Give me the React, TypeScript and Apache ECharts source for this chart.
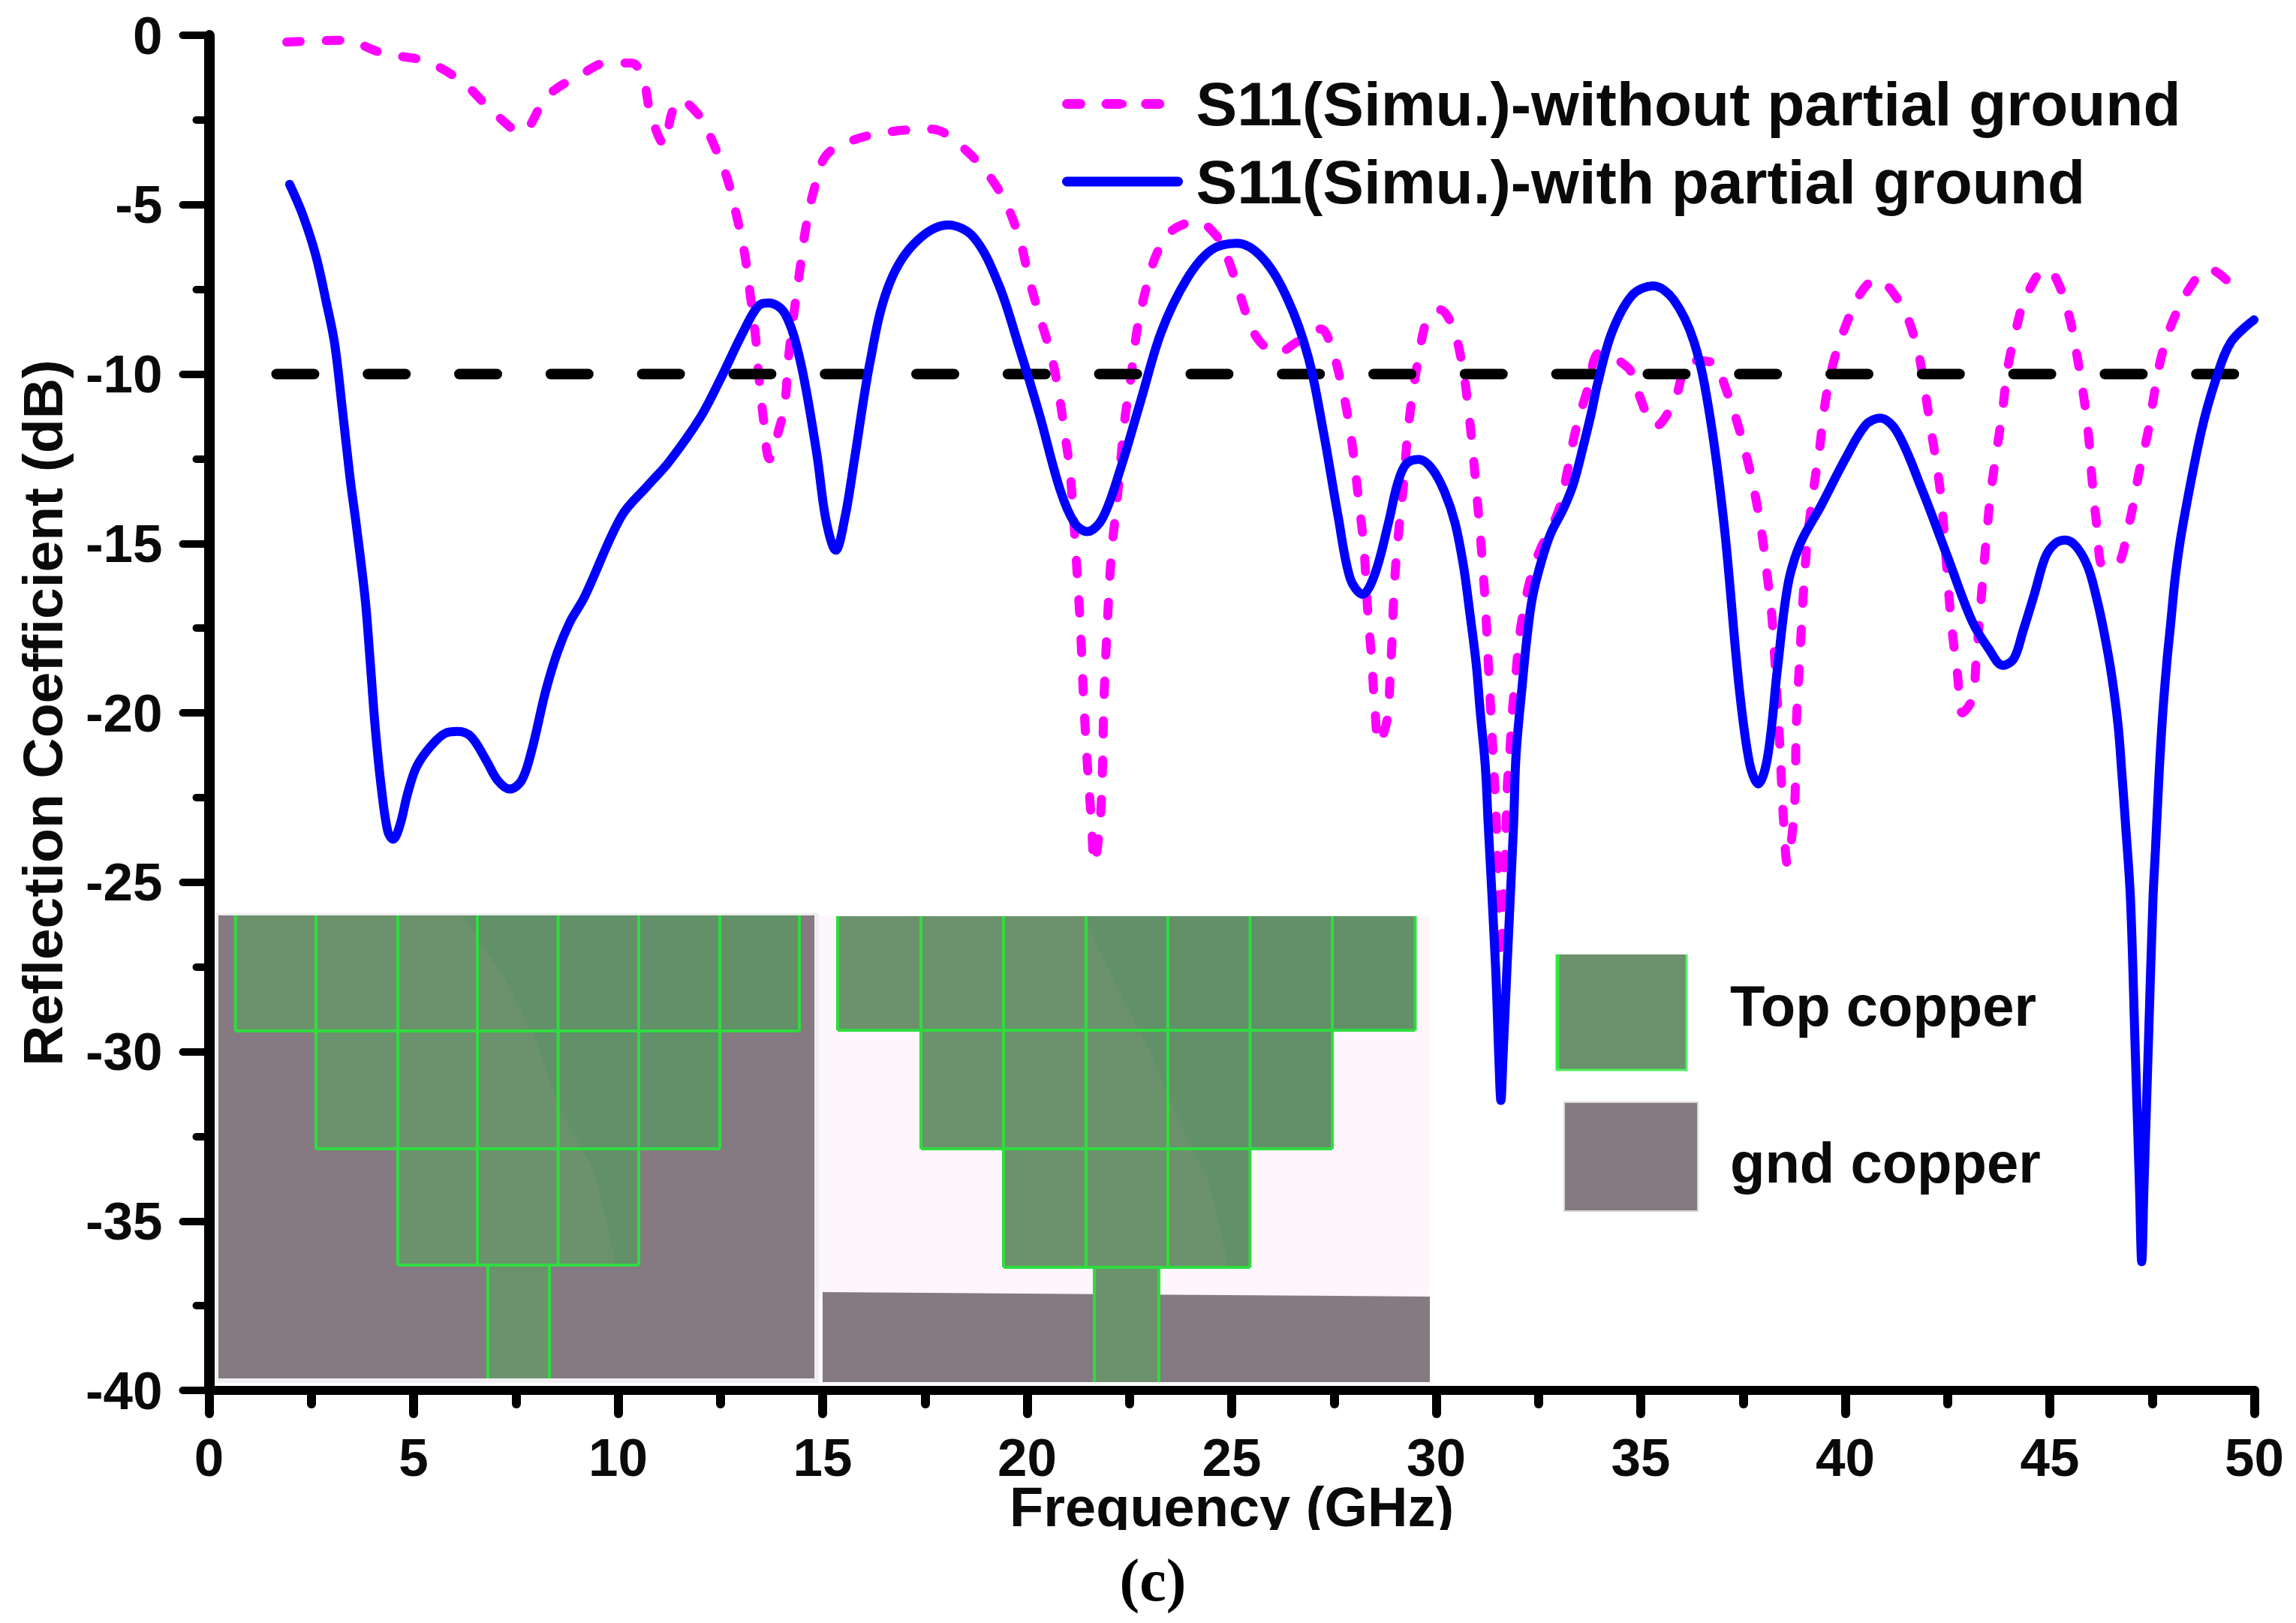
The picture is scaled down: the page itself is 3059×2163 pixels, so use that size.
import React, { useEffect, useRef } from "react";
import * as echarts from "echarts";

const withFreq = [1.97,2.29,2.61,2.87,3.07,3.26,3.45,3.6,3.82,3.94,4.06,4.21,4.37,4.5,4.67,4.85,5.07,5.41,5.78,6.08,6.4,6.76,7.06,7.35,7.64,7.89,8.22,8.52,8.83,9.17,10.08,10.72,11.24,12.0,12.5,13.04,13.42,13.68,14.07,14.45,14.85,15.08,15.32,15.55,15.78,16.15,16.58,17.2,18.07,18.69,19.3,19.8,20.3,20.8,21.16,21.47,21.84,22.28,22.78,23.28,23.9,24.5,25.12,25.75,26.37,26.87,27.24,27.6,27.9,28.2,28.5,28.83,29.05,29.26,29.58,29.9,30.2,30.46,30.67,30.82,30.98,31.07,31.2,31.27,31.45,31.53,31.58,31.63,31.73,31.89,31.95,32.1,32.22,32.35,32.56,32.8,33.1,33.35,33.6,33.8,33.94,34.3,34.8,35.3,35.8,36.3,36.67,37.04,37.4,37.66,37.87,38.1,38.34,38.6,38.9,39.4,40,40.5,40.85,41.26,41.87,42.5,43.1,43.5,43.85,44.12,44.34,44.62,44.89,45.13,45.38,45.65,45.93,46.14,46.32,46.51,46.67,46.76,46.85,46.97,47.08,47.19,47.245,47.3,47.41,47.52,47.58,47.67,47.76,47.86,47.95,48.07,48.25,48.7,49.06,49.43,49.99];
const withS11 = [-4.4,-5.3,-6.5,-7.9,-9.1,-11.05,-13.1,-14.46,-16.68,-18.5,-20.4,-22.2,-23.5,-23.73,-23.3,-22.4,-21.6,-21,-20.6,-20.55,-20.7,-21.37,-22,-22.25,-22,-21.1,-19.4,-18.2,-17.3,-16.6,-14.2,-13.3,-12.6,-11.3,-10.15,-8.8,-8.0,-7.9,-8.2,-9.6,-12.3,-14.3,-15.2,-14.2,-12.5,-9.7,-7.5,-6.2,-5.6,-5.96,-7.35,-9.2,-11.2,-13.4,-14.4,-14.65,-14.26,-12.8,-10.77,-8.75,-7.2,-6.34,-6.14,-6.57,-7.8,-9.5,-11.7,-14.2,-16.05,-16.5,-15.9,-14.4,-13.25,-12.66,-12.52,-12.8,-13.47,-14.4,-15.7,-17.05,-18.6,-19.9,-21.6,-23.3,-27.5,-30.2,-31.44,-30.2,-27.5,-23.3,-21.25,-19.2,-17.75,-16.6,-15.57,-14.7,-14,-13.25,-12.1,-11.1,-10.3,-8.75,-7.66,-7.4,-7.8,-9.05,-11.1,-14.5,-19.2,-21.5,-22.1,-21.3,-18.7,-16.2,-15,-13.9,-12.5,-11.5,-11.3,-11.7,-13.4,-15.4,-17.3,-18.1,-18.6,-18.4,-17.6,-16.5,-15.4,-15,-14.9,-15.1,-15.7,-16.6,-17.6,-18.9,-20.4,-21.8,-23.3,-25.5,-29.7,-34,-36.2,-34,-29.7,-25.5,-24.06,-21.8,-20,-18.5,-17.4,-15.94,-14.46,-11.7,-10.15,-9.05,-8.4];

const withoutFreq = [1.9,3.26,4.28,5.3,6.2,6.98,7.63,8.28,9.18,9.7,10.33,10.6,10.8,11.13,11.3,11.5,12.07,12.27,12.65,12.91,13.1,13.23,13.36,13.42,13.55,13.7,13.94,14.07,14.17,14.32,14.45,14.58,14.78,15.09,15.78,16.7,17.64,18.63,19.37,19.8,20.05,20.3,20.6,20.8,20.93,21.05,21.19,21.3,21.38,21.47,21.57,21.64,21.8,21.88,21.97,22.06,22.2,22.38,22.53,22.68,22.9,23.15,23.5,24.14,24.7,24.95,25.2,25.6,26.13,26.6,27.18,27.42,27.68,27.86,27.99,28.1,28.23,28.33,28.42,28.5,28.6,28.8,28.87,28.92,28.96,29.02,29.11,29.2,29.29,29.4,29.57,29.78,30.09,30.4,30.65,30.8,30.88,30.97,31.06,31.13,31.2,31.25,31.3,31.35,31.4,31.45,31.52,31.58,31.65,31.71,31.73,31.8,31.86,31.95,32.05,32.23,32.5,33,33.2,33.4,33.7,34,34.7,34.9,35.37,35.8,36.23,36.85,37.04,37.35,37.6,37.8,37.97,38.1,38.2,38.28,38.38,38.43,38.49,38.58,38.76,38.8,38.9,38.98,39.08,39.24,39.37,39.5,39.7,40,40.38,40.75,41.37,41.75,41.94,42.1,42.25,42.37,42.5,42.6,42.74,42.86,43.1,43.2,43.36,43.45,43.55,43.67,43.83,43.97,44.16,44.41,44.9,45.16,45.47,45.65,45.84,45.96,46.03,46.15,46.3,46.6,46.95,47.18,47.4,47.57,47.75,48.06,48.56,48.87,49.43,49.68];
const withoutS11 = [-0.2,-0.15,-0.54,-0.77,-1.39,-2.3,-2.86,-1.78,-1.1,-0.82,-0.82,-1.22,-2.35,-3.23,-2.35,-1.9,-2.5,-3.03,-4.16,-5.4,-6.5,-7.66,-8.9,-9.8,-11.3,-12.5,-11.6,-10.94,-9.47,-8,-6.87,-5.74,-4.6,-3.54,-3.08,-2.84,-2.77,-3.54,-4.7,-5.96,-7.2,-8.28,-9.5,-10.77,-11.85,-12.9,-15.3,-17.45,-19.6,-21.5,-23.2,-24.45,-22.9,-19.5,-17.1,-15.3,-13.7,-11.4,-10.15,-8.75,-7.5,-6.5,-5.8,-5.5,-6.03,-6.73,-7.66,-8.9,-9.37,-9.05,-8.67,-9.14,-10.3,-11.4,-12.5,-13.7,-15.1,-17.1,-18.4,-19.9,-20.9,-20.2,-19,-17.8,-16.6,-15.45,-14.3,-13.25,-11.9,-10.77,-9.5,-8.4,-8.1,-8.6,-9.83,-11.2,-12.1,-13.3,-14.5,-15.6,-16.8,-18,-19.2,-20.35,-21.5,-22.7,-25,-27.3,-25,-23.3,-22.3,-21.1,-19.95,-18.8,-17.6,-16.4,-15.3,-14,-12.9,-11.7,-10.45,-9.37,-9.83,-10.45,-11.54,-10.85,-9.6,-9.7,-10.3,-11.4,-12.5,-13.6,-14.8,-16.05,-17.1,-18.5,-20.55,-21.8,-23.2,-24.45,-22.7,-20.4,-18.07,-16.36,-14.8,-13.25,-12.2,-10.9,-9.7,-8.6,-7.6,-7.2,-7.97,-9.2,-10.45,-11.7,-12.8,-14,-16.05,-17.45,-18.85,-20,-19.6,-18.4,-16.05,-14.8,-13.56,-12.5,-11.2,-9.83,-8.75,-7.74,-6.9,-7.2,-8.28,-9.37,-10.77,-12,-13.1,-14.5,-15.66,-15.66,-14.34,-12.9,-11.7,-10.45,-9.37,-8.28,-7.2,-6.9,-7.35,-7.8];

const thresholdFreq = [1.65, 49.5];
const thresholdS11 = [-10, -10];

const seriesNames = ["S11(Simu.)-without partial ground", "S11(Simu.)-with partial ground"];
const thresholdName = "-10 dB";
const xTitle = "Frequency (GHz)";
const yTitle = "Reflection Coefficient (dB)";
const caption = "(c)";
const swatchLabels = ["Top copper", "gnd copper"];

const GREEN = "#6b926c";
const GREEN2 = "#619069";
const EDGE = "#2fdc40";
const GREY = "#857982";
const FONT = "'Liberation Sans', Arial, sans-serif";

function shade(points: number[][]) {
  return { type: "polygon", shape: { points }, style: { fill: GREEN2, opacity: 1 }, z: 3 };
}
function line(x1: number, y1: number, x2: number, y2: number) {
  return { type: "line", shape: { x1, y1, x2, y2 }, style: { stroke: EDGE, lineWidth: 4 }, z: 4 };
}
function gridLines(cols: number[], y0: number, y1: number) {
  return cols.map((c) => line(c, y0, c, y1)).concat([line(cols[0], y1, cols[cols.length - 1], y1)]);
}

function insetGraphics() {
  const a1 = [313.6, 421, 530, 636, 743.6, 851, 959, 1065];
  const a2 = [421, 530, 636, 743.6, 851, 959];
  const a3 = [530, 636, 743.6, 851];
  const b1 = [1116, 1227, 1337, 1447, 1556, 1665.5, 1775, 1885.5];
  const b2 = [1227, 1337, 1447, 1556, 1665.5, 1775];
  const b3 = [1337, 1447, 1556, 1665.5];
  return [
    { type: "rect", shape: { x: 288, y: 1217, width: 803, height: 626 }, style: { fill: "#efeef0" }, z: 1 },
    { type: "rect", shape: { x: 291, y: 1220, width: 794, height: 617 }, style: { fill: GREY }, z: 1 },
    { type: "rect", shape: { x: 1091, y: 1220, width: 814, height: 510 }, style: { fill: "#fdf6fd" }, z: 1 },
    { type: "polygon", shape: { points: [[1096, 1722], [1905, 1728], [1905, 1842], [1096, 1842]] }, style: { fill: GREY }, z: 1 },
    // left panel
    { type: "rect", shape: { x: a1[0], y: 1220, width: a1[7] - a1[0], height: 154 }, style: { fill: GREEN }, z: 2 },
    { type: "rect", shape: { x: a2[0], y: 1374, width: a2[5] - a2[0], height: 157 }, style: { fill: GREEN }, z: 2 },
    { type: "rect", shape: { x: a3[0], y: 1531, width: a3[3] - a3[0], height: 155 }, style: { fill: GREEN }, z: 2 },
    { type: "rect", shape: { x: 650, y: 1686, width: 82, height: 151 }, style: { fill: GREEN }, z: 2 },
    shade([[617, 1220], [1065, 1220], [1065, 1374], [959, 1374], [959, 1531], [851, 1531], [851, 1686], [821, 1686], [793, 1563], [743, 1473], [715, 1389], [673, 1305]]),
    ...gridLines(a1, 1220, 1374),
    ...gridLines(a2, 1374, 1531),
    ...gridLines(a3, 1531, 1686),
    line(650, 1686, 650, 1837),
    line(732, 1686, 732, 1837),
    // right panel
    { type: "rect", shape: { x: b1[0], y: 1221, width: b1[7] - b1[0], height: 152 }, style: { fill: GREEN }, z: 2 },
    { type: "rect", shape: { x: b2[0], y: 1373, width: b2[5] - b2[0], height: 158 }, style: { fill: GREEN }, z: 2 },
    { type: "rect", shape: { x: b3[0], y: 1531, width: b3[3] - b3[0], height: 158 }, style: { fill: GREEN }, z: 2 },
    { type: "rect", shape: { x: 1458, y: 1689, width: 86, height: 153 }, style: { fill: GREEN }, z: 2 },
    shade([[1447, 1221], [1885.5, 1221], [1885.5, 1373], [1775, 1373], [1775, 1531], [1665.5, 1531], [1665.5, 1689], [1637, 1689], [1611, 1576], [1573, 1499], [1535, 1408], [1496, 1331], [1455, 1247]]),
    ...gridLines(b1, 1221, 1373),
    ...gridLines(b2, 1373, 1531),
    ...gridLines(b3, 1531, 1689),
    line(1458, 1689, 1458, 1842),
    line(1544, 1689, 1544, 1842),
    // swatches
    { type: "rect", shape: { x: 2073, y: 1272, width: 175, height: 155 }, style: { fill: GREEN }, z: 2 },
    { type: "line", shape: { x1: 2075, y1: 1272, x2: 2075, y2: 1427 }, style: { stroke: "#30e840", lineWidth: 5 }, z: 3 },
    { type: "line", shape: { x1: 2247, y1: 1272, x2: 2247, y2: 1427 }, style: { stroke: "#50f060", lineWidth: 3 }, z: 3 },
    { type: "line", shape: { x1: 2073, y1: 1426, x2: 2248, y2: 1426 }, style: { stroke: "#50f060", lineWidth: 3 }, z: 3 },
    { type: "rect", shape: { x: 2084, y: 1469, width: 178, height: 145 }, style: { fill: GREY, stroke: "#d8d6d8", lineWidth: 2 }, z: 2 },
    { type: "text", x: 2305, y: 1340, style: { text: swatchLabels[0], font: `bold 76px ${FONT}`, fill: "#0a0a0a", verticalAlign: "middle" }, z: 5 },
    { type: "text", x: 2305, y: 1549, style: { text: swatchLabels[1], font: `bold 76px ${FONT}`, fill: "#0a0a0a", verticalAlign: "middle" }, z: 5 },
    // clip the descenders of the axis title, as in the reference
    { type: "rect", shape: { x: 1330, y: 2039, width: 620, height: 30 }, style: { fill: "#ffffff" }, z: 6 },
    { type: "text", x: 1536, y: 2106, style: { text: caption, font: `bold 80px 'Liberation Serif', serif`, fill: "#000", align: "center", verticalAlign: "middle" }, z: 7 },
  ];
}

function pairs(xs: number[], ys: number[]) {
  return xs.map((x, i) => [x, ys[i]]);
}

export default function App() {
  const ref = useRef<HTMLDivElement>(null);
  useEffect(() => {
    document.body.style.margin = "0";
    const chart = echarts.init(ref.current!, undefined, { renderer: "svg" });
    chart.setOption({
      animation: false,
      backgroundColor: "#ffffff",
      grid: { left: 278.5, right: 3059 - 3003.6, top: 47, bottom: 2163 - 1853, containLabel: false, outerBoundsMode: "none" },
      legend: {
        data: seriesNames,
        orient: "vertical",
        left: 1410,
        top: 85.5,
        itemWidth: 148,
        itemHeight: 14,
        itemGap: 7.5,
        icon: "inherit",
        selectedMode: false,
        lineStyle: { width: 13, cap: "round" },
        textStyle: { fontFamily: FONT, fontWeight: "bold", fontSize: 82, color: "#0a0a0a", lineHeight: 82, padding: [0, 0, 14, 19] },
      },
      xAxis: {
        type: "value",
        min: 0,
        max: 50,
        interval: 5,
        minorTick: { show: true, splitNumber: 2, length: 18, lineStyle: { color: "#000", width: 12, cap: "round" } },
        axisLine: { onZero: false, lineStyle: { color: "#000", width: 12 } },
        axisTick: { length: 31, lineStyle: { color: "#000", width: 12, cap: "round" } },
        axisLabel: { margin: 54, fontFamily: FONT, fontWeight: "bold", fontSize: 71, color: "#0a0a0a", showMinLabel: true, showMaxLabel: true },
        splitLine: { show: false },
        name: xTitle,
        nameLocation: "middle",
        nameGap: 118,
        nameMoveOverlap: false,
        nameTextStyle: { fontFamily: FONT, fontWeight: "bold", fontSize: 74, color: "#0a0a0a" },
      },
      yAxis: {
        type: "value",
        min: -40,
        max: 0,
        interval: 5,
        minorTick: { show: true, splitNumber: 2, length: 17, lineStyle: { color: "#000", width: 10, cap: "round" } },
        axisLine: { onZero: false, lineStyle: { color: "#000", width: 14 } },
        axisTick: { length: 35, lineStyle: { color: "#000", width: 10, cap: "round" } },
        axisLabel: { margin: 62, fontFamily: FONT, fontWeight: "bold", fontSize: 71, color: "#0a0a0a", showMinLabel: true, showMaxLabel: true },
        splitLine: { show: false },
        name: yTitle,
        nameLocation: "middle",
        nameGap: 184,
        nameTextStyle: { fontFamily: FONT, fontWeight: "bold", fontSize: 75, color: "#0a0a0a" },
      },
      series: [
        {
          name: seriesNames[0],
          type: "line",
          data: pairs(withoutFreq, withoutS11),
          smooth: 0.35,
          symbol: "none",
          clip: false,
          z: 3,
          lineStyle: { color: "#ff00ff", width: 12, type: [18, 34.6], cap: "round", join: "round" },
          itemStyle: { color: "#ff00ff" },
        },
        {
          name: seriesNames[1],
          type: "line",
          data: pairs(withFreq, withS11),
          smooth: 0.35,
          symbol: "none",
          clip: false,
          z: 5,
          lineStyle: { color: "#0000ff", width: 12, cap: "round", join: "round" },
          itemStyle: { color: "#0000ff" },
        },
        {
          name: thresholdName,
          type: "line",
          data: pairs(thresholdFreq, thresholdS11),
          symbol: "none",
          clip: false,
          z: 4,
          lineStyle: { color: "#000", width: 14, type: [50, 71.8], cap: "round" },
        },
      ],
      graphic: { elements: insetGraphics() },
    });
    return () => chart.dispose();
  }, []);
  return <div ref={ref} style={{ width: 3059, height: 2163 }} />;
}
